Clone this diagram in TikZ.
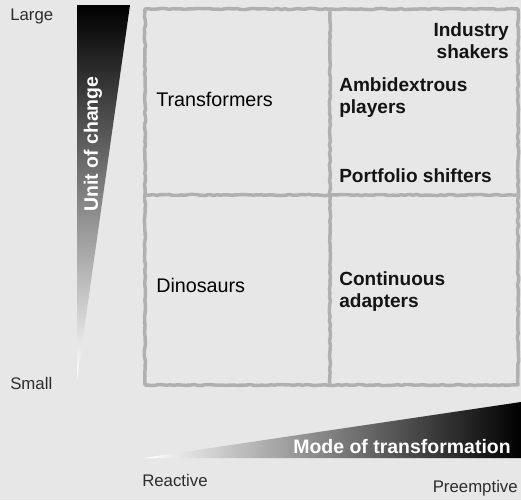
\documentclass[tikz,border=0pt]{standalone}
\usepackage{fontspec}
\setmainfont{Liberation Sans}
\usepackage{xcolor}
\usetikzlibrary{
  positioning,
  decorations.pathmorphing
}
\definecolor{PageGray}{RGB}{231,231,231}
\definecolor{GridGray}{RGB}{176,176,176}
\definecolor{AxisText}{RGB}{45,45,45}

\begin{document}
\begin{tikzpicture}[
  x=0.75pt, y=-0.75pt,
  grid/.style={
    draw=GridGray,
    line width=2.6pt,
    line join=round,
    decorate,
    decoration={random steps, segment length=3pt, amplitude=0.45pt},
  },
  cell/.style={
    font=\fontsize{14.3}{16.5}\selectfont\bfseries,
    text=black!92,
    inner sep=0pt,
  },
  cellplain/.style={
    cell,
    font=\fontsize{14.8}{16.5}\selectfont,
    text=black,
  },
  axlab/.style={
    font=\fontsize{12.6}{14}\selectfont,
    text=AxisText,
    inner sep=0pt,
  },
  wedgelab/.style={
    font=\fontsize{14.6}{16}\selectfont\bfseries,
    text=white,
    inner sep=0pt,
  },
]
  \pgfmathsetseed{7}
  % -------- 背景 --------
  \fill[PageGray] (0,0) rectangle (521,500);
  \useasboundingbox (0,0) rectangle (521,500);

  % -------- 纵向楔形（变化单位）--------
  \shade[top color=black, middle color=black!75, bottom color=white]
    (77,5) -- (130,5) -- (77,380) -- cycle;
  \node[wedgelab, rotate=90] (unit) at (93,144) {Unit of change};

  % -------- 横向楔形（转型方式）--------
  \shade[left color=white, middle color=black!55, right color=black]
    (143,458) -- (521,402) -- (521,458) -- cycle;
  \node[wedgelab, anchor=base east] (mode) at (511,453) {Mode of transformation};

  % -------- 四象限网格 --------
  \draw[grid] (145,9) -- (518,9) -- (518,385) -- (145,385) -- cycle;
  \draw[grid] (330,9) -- (330,385);
  \draw[grid] (145,195) -- (518,195);

  % -------- 象限文字（多行节点以末行基线定位）--------
  \node[cellplain, anchor=base west] (trans) at (156,106) {Transformers};
  \node[cell, anchor=base east, align=right] (shake) at (509,58)
    {Industry\\shakers};
  \node[cell, anchor=base west, align=left] (ambi) at (339,113)
    {Ambidextrous\\players};
  \node[cell, anchor=base west] (port) at (339,182) {Portfolio shifters};
  \node[cellplain, anchor=base west] (dino) at (156,292) {Dinosaurs};
  \node[cell, anchor=base west, align=left] (cont) at (339,307)
    {Continuous\\adapters};

  % -------- 坐标轴端点标注 --------
  \node[axlab, anchor=west] (large) at (10,16) {Large};
  \node[axlab, anchor=west] (small) at (10,383) {Small};
  \node[axlab, anchor=west] (react) at (142,480) {Reactive};
  \node[axlab, anchor=east] (pre) at (518,488) {Preemptive};
\end{tikzpicture}
\end{document}
